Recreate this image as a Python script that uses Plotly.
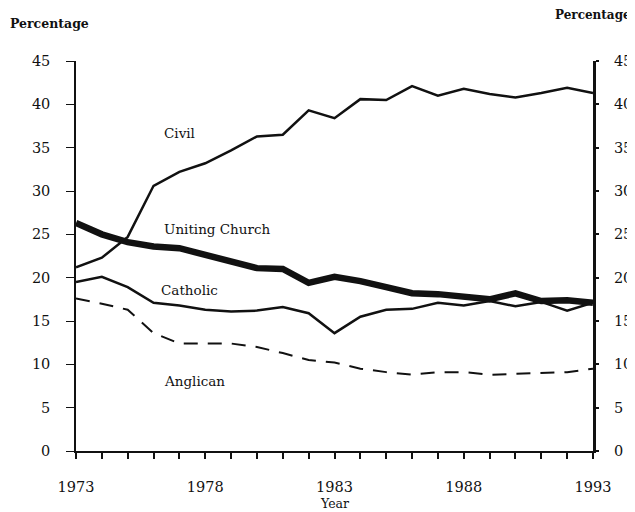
import plotly.graph_objects as go

years = list(range(1973, 1994))
civil = [21.2, 22.3, 24.7, 30.6, 32.2, 33.2, 34.7, 36.3, 36.5, 39.3, 38.4, 40.6, 40.5, 42.1, 41.0, 41.8, 41.2, 40.8, 41.3, 41.9, 41.3]
uniting = [26.3, 25.0, 24.1, 23.6, 23.4, 22.6, 21.8, 21.1, 21.0, 19.4, 20.1, 19.6, 18.9, 18.2, 18.1, 17.8, 17.5, 18.2, 17.3, 17.4, 17.1]
catholic = [19.5, 20.1, 18.9, 17.1, 16.8, 16.3, 16.1, 16.2, 16.6, 15.9, 13.6, 15.5, 16.3, 16.4, 17.1, 16.8, 17.3, 16.7, 17.2, 16.2, 17.1]
anglican = [17.6, 17.0, 16.3, 13.6, 12.4, 12.4, 12.4, 12.0, 11.3, 10.5, 10.2, 9.5, 9.1, 8.8, 9.1, 9.1, 8.8, 8.9, 9.0, 9.1, 9.5]

series_labels = ["Civil", "Uniting Church", "Catholic", "Anglican"]
label_x = [1977.0, 1978.45, 1977.4, 1977.6]
label_y = [36.7, 25.6, 18.6, 8.1]

y_ticks = [0, 5, 10, 15, 20, 25, 30, 35, 40, 45]
x_ticks = [1973, 1978, 1983, 1988, 1993]

FONT = "DejaVu Serif"
INK = "#111111"

fig = go.Figure()
fig.add_trace(go.Scatter(x=years, y=civil, mode="lines", line=dict(color=INK, width=2.5), name="Civil"))
fig.add_trace(go.Scatter(x=years, y=catholic, mode="lines", line=dict(color=INK, width=2.5), name="Catholic"))
fig.add_trace(go.Scatter(x=years, y=anglican, mode="lines", line=dict(color=INK, width=2, dash="14px,10px"), name="Anglican"))
fig.add_trace(go.Scatter(x=years, y=uniting, mode="lines", line=dict(color=INK, width=6.5), name="Uniting Church"))
# invisible trace to activate right axis
fig.add_trace(go.Scatter(x=[years[0]], y=[0], yaxis="y2", mode="markers", marker=dict(opacity=0), showlegend=False, hoverinfo="skip"))

for t, xx, yy in zip(series_labels, label_x, label_y):
    fig.add_annotation(x=xx, y=yy, text=t, showarrow=False, font=dict(family=FONT, size=13.5, color=INK))

fig.add_annotation(xref="paper", yref="paper", x=-0.1315, y=1.095, xanchor="left", yanchor="middle",
                   text="<b>Percentage</b>", showarrow=False, font=dict(family=FONT, size=12.5, color=INK))
fig.add_annotation(xref="paper", yref="paper", x=0.9226, y=1.118, xanchor="left", yanchor="middle",
                   text="<b>Percentage</b>", showarrow=False, font=dict(family=FONT, size=12, color=INK))
fig.add_annotation(xref="paper", yref="paper", x=0.5, y=-0.134, xanchor="center", yanchor="middle",
                   text="Year", showarrow=False, font=dict(family=FONT, size=12.5, color=INK))

# The page body adds an 8px offset, so the figure is 8px smaller and margins compensate.
fig.update_layout(
    width=627, height=504,
    margin=dict(l=68, r=42, t=53, b=61),
    paper_bgcolor="white", plot_bgcolor="white",
    showlegend=False,
    font=dict(family=FONT, size=14, color=INK),
    xaxis=dict(range=[1973, 1993], tickvals=x_ticks, ticks="outside", ticklen=6, tickwidth=1.5,
               tickcolor=INK, showline=True, linecolor=INK, linewidth=2, showgrid=False, zeroline=False,
               minor=dict(dtick=1, tick0=1973, ticks="outside", ticklen=6, tickwidth=1.5, tickcolor=INK),
               ticklabelstandoff=16, automargin=False, tickfont=dict(family=FONT, size=14.5, color=INK)),
    yaxis=dict(range=[0, 45], tickvals=y_ticks, ticks="outside", ticklen=8, tickwidth=1.2, tickcolor=INK,
               showline=True, linecolor=INK, linewidth=1.5, showgrid=False, zeroline=False,
               ticklabelstandoff=13, automargin=False, tickfont=dict(family=FONT, size=14.5, color=INK)),
    yaxis2=dict(range=[0, 45], tickvals=y_ticks, overlaying="y", side="right", ticks="outside", ticklen=3,
                tickwidth=2, tickcolor=INK, showline=True, linecolor=INK, linewidth=3, showgrid=False,
                zeroline=False, ticklabelstandoff=12, automargin=False,
                tickfont=dict(family=FONT, size=14.5, color=INK)),
)

fig.write_html("out.html")
